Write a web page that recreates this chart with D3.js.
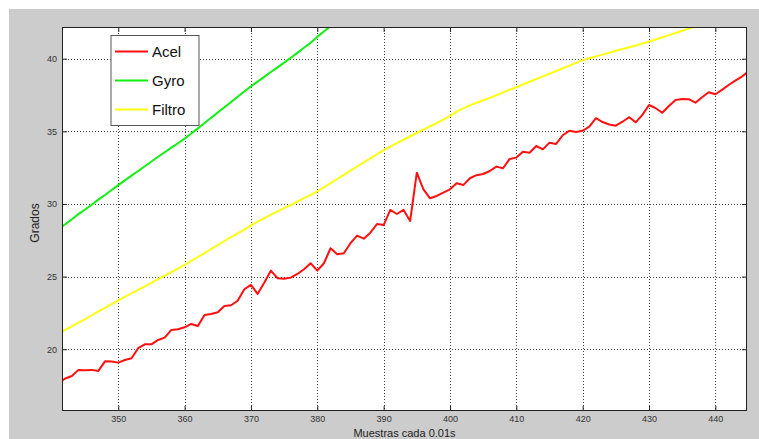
<!DOCTYPE html>
<html>
<head>
<meta charset="utf-8">
<script src="https://cdn.jsdelivr.net/npm/d3@7"></script>
<style>
  body { margin: 0; background: #fff; }
  text { font-family: "Liberation Sans", Arial, sans-serif; }
</style>
</head>
<body>
<div id="chart"></div>
<script>
const sampleStart = 341;

const acel = [
  17.65, 17.99, 18.16, 18.58, 18.55, 18.58, 18.51, 19.17, 19.15, 19.08,
  19.26, 19.38, 20.07, 20.34, 20.34, 20.64, 20.8, 21.33, 21.38, 21.51,
  21.74, 21.6, 22.36, 22.43, 22.55, 22.98, 23.03, 23.34, 24.13, 24.43,
  23.81, 24.58, 25.41, 24.89, 24.86, 24.93, 25.18, 25.51, 25.92, 25.41,
  25.92, 26.95, 26.54, 26.61, 27.3, 27.82, 27.61, 28.02, 28.62, 28.55,
  29.59, 29.31, 29.59, 28.83, 32.15, 31.01, 30.39, 30.55, 30.78, 31.01,
  31.42, 31.3, 31.77, 31.98, 32.06, 32.27, 32.57, 32.46, 33.1, 33.19,
  33.6, 33.53, 33.99, 33.76, 34.22, 34.13, 34.73, 35.04, 34.96, 35.04,
  35.32, 35.9, 35.64, 35.47, 35.39, 35.66, 35.97, 35.62, 36.13, 36.81,
  36.59, 36.28, 36.74, 37.16, 37.23, 37.21, 36.97, 37.34, 37.69, 37.55,
  37.85, 38.19, 38.49, 38.77, 39.12
];

const gyro = [
  28.27, 28.6, 28.95, 29.3, 29.62, 29.95, 30.3, 30.62, 30.96, 31.3,
  31.62, 31.95, 32.27, 32.6, 32.92, 33.25, 33.56, 33.88, 34.18, 34.5,
  34.85, 35.2, 35.57, 35.93, 36.3, 36.66, 37.02, 37.38, 37.74, 38.1,
  38.42, 38.75, 39.08, 39.4, 39.73, 40.06, 40.4, 40.75, 41.1, 41.5,
  41.87, 42.25, 42.62, 43.0
];

const filtro = [
  21.08, 21.33, 21.58, 21.83, 22.08, 22.34, 22.6, 22.85, 23.1, 23.37,
  23.6, 23.84, 24.08, 24.33, 24.57, 24.82, 25.06, 25.31, 25.55, 25.8,
  26.08, 26.35, 26.62, 26.9, 27.17, 27.45, 27.72, 27.98, 28.24, 28.52,
  28.78, 29.02, 29.26, 29.49, 29.71, 29.93, 30.16, 30.4, 30.62, 30.87,
  31.15, 31.43, 31.72, 32.0, 32.3, 32.58, 32.86, 33.14, 33.42, 33.7,
  33.94, 34.18, 34.42, 34.66, 34.9, 35.12, 35.35, 35.57, 35.8, 36.07,
  36.35, 36.58, 36.78, 36.97, 37.14, 37.3, 37.48, 37.68, 37.86, 38.03,
  38.22, 38.41, 38.6, 38.78, 38.96, 39.15, 39.34, 39.52, 39.71, 39.9,
  40.03, 40.16, 40.28, 40.41, 40.54, 40.66, 40.79, 40.91, 41.04, 41.17,
  41.32, 41.47, 41.62, 41.77, 41.92, 42.07, 42.22, 42.37
];

const xTicks = [350, 360, 370, 380, 390, 400, 410, 420, 430, 440];
const yTicks = [20, 25, 30, 35, 40];

const series = [
  { name: 'Acel', color: '#ff1010', values: acel },
  { name: 'Gyro', color: '#10f010', values: gyro },
  { name: 'Filtro', color: '#ffff10', values: filtro }
];

const width = 759, height = 439;
const box = { left: 62, top: 27, right: 747, bottom: 411 };

const x = d3.scaleLinear().domain([341.52, 444.77]).range([box.left, box.right]);
const y = d3.scaleLinear().domain([15.75, 42.18]).range([box.bottom, box.top]);

const svg = d3.select('#chart').append('svg')
  .attr('width', width)
  .attr('height', height);

svg.append('rect')
  .attr('x', 9).attr('y', 9)
  .attr('width', width - 9).attr('height', height - 9)
  .attr('fill', '#cccccc');

svg.append('rect')
  .attr('x', box.left).attr('y', box.top)
  .attr('width', box.right - box.left).attr('height', box.bottom - box.top)
  .attr('fill', '#fff');

svg.append('defs').append('clipPath').attr('id', 'clip')
  .append('rect')
  .attr('x', box.left).attr('y', box.top)
  .attr('width', box.right - box.left).attr('height', box.bottom - box.top);

// grid
const grid = svg.append('g')
  .attr('stroke', '#444')
  .attr('stroke-width', 1)
  .attr('stroke-dasharray', '1,2');

grid.selectAll('line.gx').data(xTicks).join('line')
  .attr('class', 'gx')
  .attr('x1', d => Math.round(x(d)) + 0.5).attr('x2', d => Math.round(x(d)) + 0.5)
  .attr('y1', box.top).attr('y2', box.bottom);

grid.selectAll('line.gy').data(yTicks).join('line')
  .attr('class', 'gy')
  .attr('y1', d => Math.round(y(d)) + 0.5).attr('y2', d => Math.round(y(d)) + 0.5)
  .attr('x1', box.left).attr('x2', box.right);

// axes with inward ticks, MATLAB style
const xAxisB = d3.axisBottom(x).tickValues(xTicks).tickSizeInner(-5).tickSizeOuter(0).tickPadding(5);
const xAxisT = d3.axisTop(x).tickValues(xTicks).tickSizeInner(-5).tickSizeOuter(0).tickFormat('');
const yAxisL = d3.axisLeft(y).tickValues(yTicks).tickSizeInner(-5).tickSizeOuter(0).tickPadding(5);
const yAxisR = d3.axisRight(y).tickValues(yTicks).tickSizeInner(-5).tickSizeOuter(0).tickFormat('');

const styleAxis = g => {
  g.select('.domain').remove();
  g.selectAll('.tick line').attr('stroke', '#222');
  g.selectAll('.tick text')
    .attr('fill', '#333')
    .style('font-size', '9px')
    .style('font-family', '"Liberation Sans", Arial, sans-serif');
};

svg.append('g').attr('transform', `translate(0,${box.bottom})`).call(xAxisB).call(styleAxis);
svg.append('g').attr('transform', `translate(0,${box.top})`).call(xAxisT).call(styleAxis);
svg.append('g').attr('transform', `translate(${box.left},0)`).call(yAxisL).call(styleAxis);
svg.append('g').attr('transform', `translate(${box.right},0)`).call(yAxisR).call(styleAxis);

// series
const line = d3.line()
  .x((d, i) => x(sampleStart + i))
  .y(d => y(d));

svg.append('g').attr('clip-path', 'url(#clip)')
  .selectAll('path').data(series).join('path')
  .attr('d', d => line(d.values))
  .attr('fill', 'none')
  .attr('stroke', d => d.color)
  .attr('stroke-width', 2)
  .attr('stroke-linejoin', 'round');

svg.append('rect')
  .attr('x', box.left + 0.5).attr('y', box.top + 0.5)
  .attr('width', box.right - box.left - 1).attr('height', box.bottom - box.top - 1)
  .attr('fill', 'none')
  .attr('stroke', '#222');

// labels
svg.append('text')
  .attr('transform', `translate(39,${(box.top + box.bottom) / 2 + 4}) rotate(-90)`)
  .attr('text-anchor', 'middle')
  .attr('fill', '#222')
  .style('font-size', '12px')
  .text('Grados');

svg.append('text')
  .attr('x', (box.left + box.right) / 2)
  .attr('y', 437)
  .attr('text-anchor', 'middle')
  .attr('fill', '#222')
  .style('font-size', '11px')
  .text('Muestras cada 0.01s');

// legend
const legend = svg.append('g').attr('transform', 'translate(111,35.5)');

legend.append('rect')
  .attr('width', 88).attr('height', 90)
  .attr('fill', '#fff')
  .attr('stroke', '#555');

const item = legend.selectAll('g.item').data(series).join('g')
  .attr('class', 'item')
  .attr('transform', (d, i) => `translate(0,${16 + i * 29})`);

item.append('line')
  .attr('x1', 4).attr('x2', 37)
  .attr('stroke', d => d.color)
  .attr('stroke-width', 2);

item.append('text')
  .attr('x', 41)
  .attr('y', 5)
  .attr('fill', '#111')
  .style('font-size', '15px')
  .text(d => d.name);
</script>
</body>
</html>
